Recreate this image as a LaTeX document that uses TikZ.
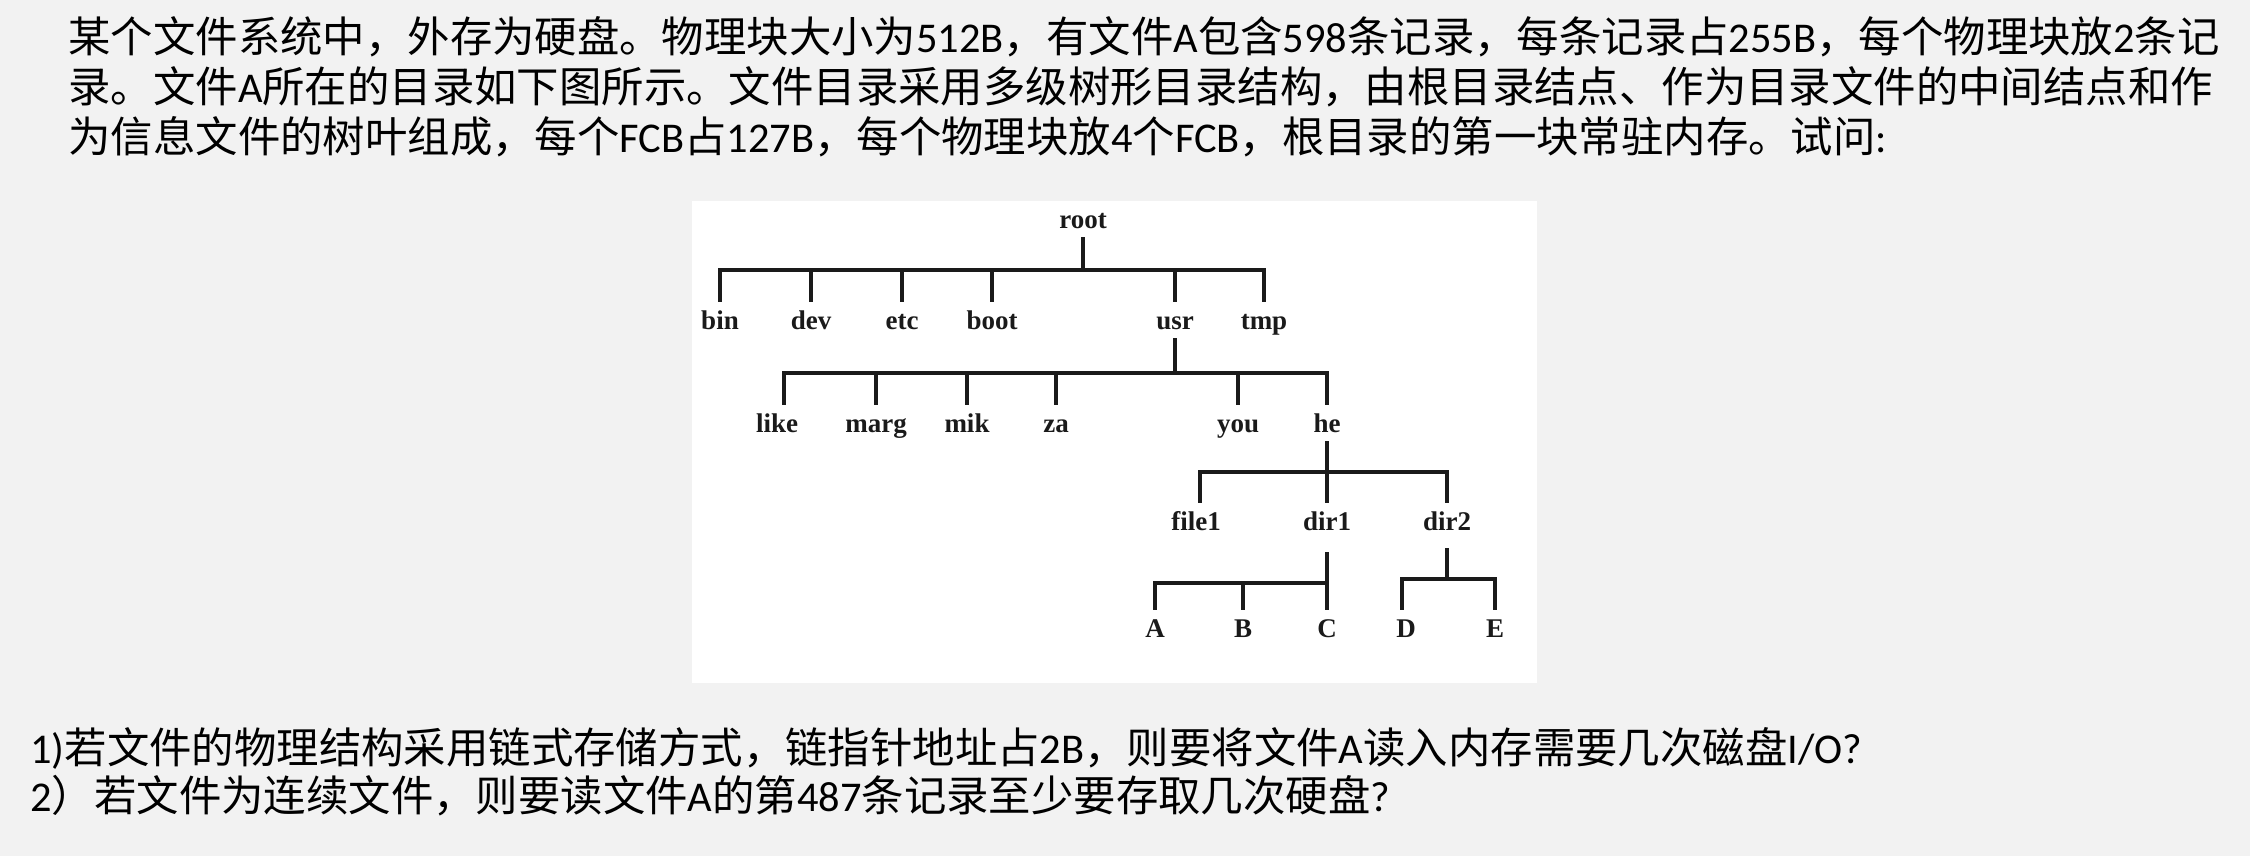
\documentclass[tikz,border=0pt]{standalone}
\usepackage{fontspec}
\setmainfont{Carlito}
\newfontfamily\cjk{Noto Sans CJK SC}
\newfontfamily\enfont{Carlito}
\newfontfamily\treefont{Liberation Serif}
\newcommand\en[1]{{\enfont #1}}
\definecolor{bgcol}{HTML}{F2F2F2}
\definecolor{inkcol}{HTML}{1A1A1A}
\begin{document}
\begin{tikzpicture}[x=0.5pt,y=-0.5pt,
  txt/.style={font=\cjk\fontsize{21.2pt}{25pt}\selectfont, inner sep=0pt, anchor=base west, text=black},
  lbl/.style={font=\treefont\bfseries\fontsize{13.5pt}{15pt}\selectfont, anchor=base,
    text height=10pt, text depth=1pt, inner xsep=0pt, inner ysep=3.5pt, text=inkcol},
  tl/.style={draw=inkcol, line width=1.6pt}]
\fill[bgcol] (0,0) rectangle (2250,856);
\useasboundingbox (0,0) rectangle (2250,856);
\fill[white] (692,201) rectangle (1537,683);

% top paragraph
\node[txt] (t1) at (68,53) {某个文件系统中，外存为硬盘。物理块大小为\en{512B}，有文件\en{A}包含\en{598}条记录，每条记录占\en{255B}，每个物理块放\en{2}条记};
\node[txt] (t2) at (68,103) {录。文件\en{A}所在的目录如下图所示。文件目录采用多级树形目录结构，由根目录结点、作为目录文件的中间结点和作};
\node[txt] (t3) at (68,153) {为信息文件的树叶组成，每个\en{FCB}占\en{127B}，每个物理块放\en{4}个\en{FCB}，根目录的第一块常驻内存。试问\en{:}};

% questions
\node[txt] (q1) at (30,763) {\en{1)}若文件的物理结构采用链式存储方式，链指针地址占\en{2B}，则要将文件\en{A}读入内存需要几次磁盘\en{I/O?}};
\node[txt] (q2) at (30,811) {\en{2}）若文件为连续文件，则要读文件\en{A}的第\en{487}条记录至少要存取几次硬盘\en{?}};

% tree labels
\node[lbl] (root) at (1083,228) {root};
\node[lbl] (bin) at (720,329) {bin};
\node[lbl] (dev) at (811,329) {dev};
\node[lbl] (etc) at (902,329) {etc};
\node[lbl] (boot) at (992,329) {boot};
\node[lbl] (usr) at (1175,329) {usr};
\node[lbl] (tmp) at (1264,329) {tmp};
\node[lbl] (like) at (777,432) {like};
\node[lbl] (marg) at (876,432) {marg};
\node[lbl] (mik) at (967,432) {mik};
\node[lbl] (za) at (1056,432) {za};
\node[lbl] (you) at (1238,432) {you};
\node[lbl] (he) at (1327,432) {he};
\node[lbl] (file1) at (1196,530) {file1};
\node[lbl] (dir1) at (1327,530) {dir1};
\node[lbl] (dir2) at (1447,530) {dir2};
\node[lbl] (A) at (1155,637) {A};
\node[lbl] (B) at (1243,637) {B};
\node[lbl] (C) at (1327,637) {C};
\node[lbl] (D) at (1406,637) {D};
\node[lbl] (E) at (1495,637) {E};

% connectors
\coordinate (j1) at (1083,270);
\draw[tl] (root.south) -- (j1);
\draw[tl] (bin.north) |- (j1) -| (tmp.north);
\foreach \n in {dev,etc,boot,usr} \draw[tl] (\n.north) -- (\n.north |- j1);

\coordinate (j2) at (1175,373);
\draw[tl] (usr.south) -- (j2);
\draw[tl] ([xshift=3.5pt]like.north) |- (j2) -| (he.north);
\foreach \n in {marg,mik,za,you} \draw[tl] (\n.north) -- (\n.north |- j2);

\coordinate (j3) at (1327,472);
\draw[tl] (he.south) -- (dir1.north);
\draw[tl] ([xshift=2pt]file1.north) |- (j3) -| (dir2.north);

\coordinate (j4) at (1327,583);
\draw[tl] ([yshift=-6.5pt]dir1.south) -- (C.north);
\draw[tl] (A.north) |- (j4);
\draw[tl] (B.north) -- (B.north |- j4);

\coordinate (j5) at (1447,579);
\draw[tl] ([yshift=-4.5pt]dir2.south) -- (j5);
\draw[tl] ([xshift=-2pt]D.north) |- (j5) -| (E.north);
\end{tikzpicture}
\end{document}
